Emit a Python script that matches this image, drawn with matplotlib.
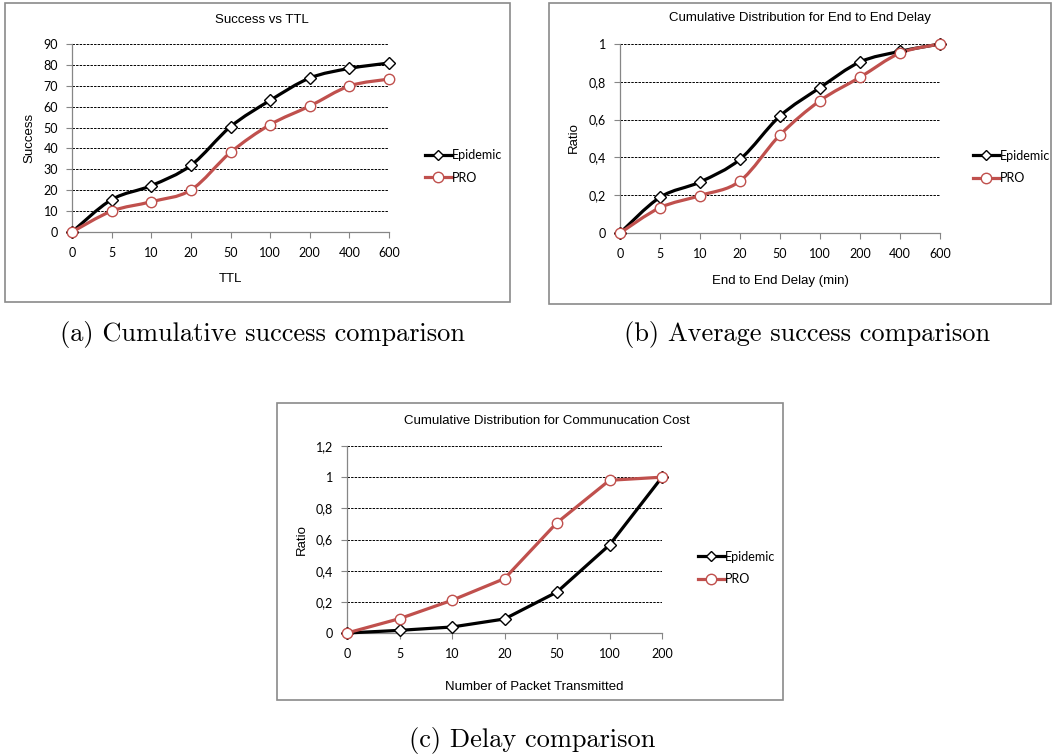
import numpy as np
import matplotlib
matplotlib.use('Agg')
import matplotlib.pyplot as plt
from matplotlib.path import Path
from matplotlib.patches import PathPatch, Rectangle
from matplotlib.lines import Line2D

# data
ttl = ['0', '5', '10', '20', '50', '100', '200', '400', '600']
success_epidemic = [0, 15.5, 22.2, 31.9, 50.4, 63.0, 73.7, 78.3, 80.9]
success_pro = [0, 10.0, 14.5, 20.1, 38.1, 51.4, 60.3, 69.9, 73.2]
success_ticks = [0, 10, 20, 30, 40, 50, 60, 70, 80, 90]
success_ticklabels = ['0', '10', '20', '30', '40', '50', '60', '70', '80', '90']

delay_min = ['0', '5', '10', '20', '50', '100', '200', '400', '600']
delay_epidemic = [0, 0.189, 0.27, 0.39, 0.619, 0.769, 0.905, 0.961, 1.0]
delay_pro = [0, 0.134, 0.198, 0.275, 0.519, 0.70, 0.824, 0.952, 1.0]
ratio_ticks = [0, 0.2, 0.4, 0.6, 0.8, 1.0]
ratio_ticklabels = ['0', '0,2', '0,4', '0,6', '0,8', '1']

packets = ['0', '5', '10', '20', '50', '100', '200']
cost_epidemic = [0, 0.017, 0.0385, 0.09, 0.263, 0.565, 1.0]
cost_pro = [0, 0.092, 0.21, 0.349, 0.708, 0.98, 1.0]
cost_ticks = [0, 0.2, 0.4, 0.6, 0.8, 1.0, 1.2]
cost_ticklabels = ['0', '0,2', '0,4', '0,6', '0,8', '1', '1,2']

W, H = 1053, 756
RED = '#C0504D'
TICKFONT = 'Lato'
LABFONT = 'Liberation Sans'

fig = plt.figure(figsize=(W / 100, H / 100), dpi=100)


def fx(px):
    return px / W


def fy(py):
    return 1 - py / H


def smooth_line(ax, y, color, lw):
    # excel style smoothed line: cubic bezier through the points
    pts = np.column_stack([np.arange(len(y)), np.asarray(y, float)])
    verts = [pts[0]]
    codes = [Path.MOVETO]
    n = len(pts)
    for i in range(n - 1):
        p0 = pts[max(i - 1, 0)]
        p1 = pts[i]
        p2 = pts[i + 1]
        p3 = pts[min(i + 2, n - 1)]
        verts += [p1 + (p2 - p0) / 6, p2 - (p3 - p1) / 6, p2]
        codes += [Path.CURVE4] * 3
    ax.add_patch(PathPatch(Path(verts, codes), fill=False, ec=color, lw=lw,
                           clip_on=False, zorder=3, joinstyle='round'))


def panel(box, axpix, cats, ep, pro, yticks, ylabels, title, xlabel, ylabel,
          title_xy, xlabel_xy, ylabel_xy, legend_pos, smooth):
    # chart border
    x0, y0, x1, y1 = box
    fig.patches.append(Rectangle((fx(x0), fy(y1)), fx(x1) - fx(x0), fy(y0) - fy(y1),
                                 transform=fig.transFigure, fill=False,
                                 ec='#8a8a8a', lw=1.2))
    l, r, t, b = axpix
    ax = fig.add_axes([fx(l), fy(b), fx(r) - fx(l), fy(t) - fy(b)])
    x = np.arange(len(cats))
    if smooth:
        smooth_line(ax, ep, 'black', 2.3)
        smooth_line(ax, pro, RED, 2.3)
        ls = 'none'
    else:
        ls = '-'
    ax.plot(x, ep, color='black', lw=2.3, ls=ls, marker='D', ms=6, mfc='white',
            mec='black', mew=1.0, clip_on=False, zorder=4)
    ax.plot(x, pro, color=RED, lw=2.3, ls=ls, marker='o', ms=7.5, mfc='white',
            mec=RED, mew=1.0, clip_on=False, zorder=5)
    ax.set_xlim(0, len(cats) - 1)
    ax.set_ylim(yticks[0], yticks[-1])
    ax.set_xticks(x)
    ax.set_xticklabels(cats, fontfamily=TICKFONT, fontsize=9)
    ax.set_yticks(yticks)
    ax.set_yticklabels(ylabels, fontfamily=TICKFONT, fontsize=9)
    ax.tick_params(axis='both', direction='out', length=4, width=0.8, color='#868686')
    ax.tick_params(axis='x', pad=7)
    ax.tick_params(axis='y', pad=6)
    for s in ['top', 'right']:
        ax.spines[s].set_visible(False)
    for s in ['left', 'bottom']:
        ax.spines[s].set_color('#868686')
        ax.spines[s].set_linewidth(0.9)
        ax.spines[s].set_zorder(2.5)
    ax.yaxis.grid(True, color='black', ls=(0, (2.5, 1.2)), lw=0.7)
    ax.set_axisbelow(True)
    ax.patch.set_alpha(0)

    fig.text(fx(title_xy[0]), fy(title_xy[1]), title, ha='center', va='center',
             fontfamily=LABFONT, fontsize=9.5)
    fig.text(fx(xlabel_xy[0]), fy(xlabel_xy[1]), xlabel, ha='center', va='center',
             fontfamily=LABFONT, fontsize=9.5)
    fig.text(fx(ylabel_xy[0]), fy(ylabel_xy[1]), ylabel, ha='center', va='center',
             rotation=90, fontfamily=LABFONT, fontsize=9.5)

    handles = [Line2D([], [], color='black', lw=2.3, marker='D', ms=5.5, mfc='white',
                      mec='black', mew=1.0),
               Line2D([], [], color=RED, lw=2.3, marker='o', ms=7.5, mfc='white',
                      mec=RED, mew=1.0)]
    ax.legend(handles, ['Epidemic', 'PRO'], loc='center left',
              bbox_to_anchor=(fx(legend_pos[0]), fy(legend_pos[1])),
              bbox_transform=fig.transFigure, frameon=False, borderpad=0,
              handlelength=2.1, handletextpad=0.05, labelspacing=0.85,
              prop={'family': TICKFONT, 'size': 9})
    return ax


panel((5, 3, 510, 302), (72, 389, 44, 232), ttl, success_epidemic, success_pro,
      success_ticks, success_ticklabels, 'Success vs TTL', 'TTL', 'Success',
      (262, 20), (230, 279), (29, 138), (419, 166.5), True)

panel((549, 3, 1051, 304), (620, 940, 44, 233), delay_min, delay_epidemic, delay_pro,
      ratio_ticks, ratio_ticklabels, 'Cumulative Distribution for End to End Delay',
      'End to End Delay (min)', 'Ratio',
      (800, 18), (780, 281), (574, 138), (967, 167), True)

panel((277, 403, 783, 700), (347, 662, 446, 633), packets, cost_epidemic, cost_pro,
      cost_ticks, cost_ticklabels, 'Cumulative Distribution for Communucation Cost',
      'Number of Packet Transmitted', 'Ratio',
      (547, 421), (534, 687), (302, 540), (692, 568), False)

# figure captions
fig.text(fx(262), fy(335), '(a) Cumulative success comparison', ha='center',
         va='center', fontfamily='cmr10', fontsize=19)
fig.text(fx(807), fy(335), '(b) Average success comparison', ha='center',
         va='center', fontfamily='cmr10', fontsize=19)
fig.text(fx(532), fy(740), '(c) Delay comparison', ha='center',
         va='center', fontfamily='cmr10', fontsize=19)

fig.savefig('out.png', dpi=100, facecolor='white')
